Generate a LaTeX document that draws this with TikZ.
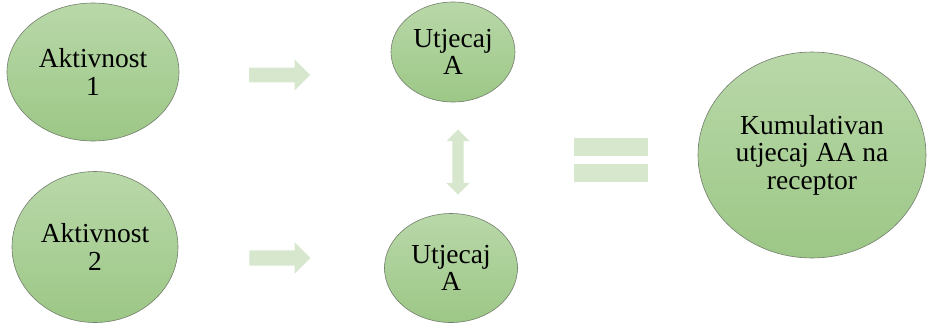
\documentclass[tikz,border=0pt]{standalone}
\usepackage{fontspec}
\setmainfont{Liberation Serif}
\newfontfamily\blobfont{Liberation Serif}
\usetikzlibrary{shapes.geometric,shapes.arrows,positioning}
\definecolor{BlobTop}{HTML}{B9D8A9}
\definecolor{BlobBot}{HTML}{9CC786}
\definecolor{BlobLine}{HTML}{737E6C}
\definecolor{Pale}{HTML}{D6E7CE}
\tikzset{blob/.style={ellipse,draw=BlobLine,line width=.6pt,top color=BlobTop,bottom color=BlobBot,align=center,inner sep=0pt,font=\blobfont\fontsize{27.5}{27.5}\selectfont},
  blockarr/.style={single arrow,fill=Pale,draw=none,inner sep=0pt,single arrow head extend=8pt,minimum width=31pt,minimum height=61pt},
  bar/.style={rectangle,fill=Pale,draw=none,inner sep=0pt,minimum width=74pt,minimum height=18pt}}

\begin{document}
\begin{tikzpicture}[x=1pt,y=-1pt]
\useasboundingbox (0,0) rectangle (927,325);
\node[blob,minimum width=172pt,minimum height=138pt] (act1) at (93,72) {Aktivnost\\1};
\node[blob,minimum width=166pt,minimum height=151pt] (act2) at (95,247) {Aktivnost\\2};
\node[blob,minimum width=124pt,minimum height=100pt] (eff1) at (453,52) {Utjecaj\\A};
\node[blob,minimum width=133pt,minimum height=109pt] (eff2) at (451,268) {Utjecaj\\A};
\node[blob,minimum width=228pt,minimum height=206pt] (cum) at (812,155) {Kumulativan\\utjecaj AA na\\receptor};
\node[blockarr,text height=14pt] (arr1) at (276,75) {};
\node[blockarr,text height=15pt] (arr2) at (276,258) {};
\node[double arrow,fill=Pale,draw=none,inner sep=0pt,shape border rotate=90,text width=11pt,double arrow head extend=6pt,minimum width=23pt,minimum height=65pt] (link) at (458,162) {};
\node[bar] (eqtop) at (611,147) {};
\node[bar] (eqbot) at (611,173) {};
\end{tikzpicture}
\end{document}
